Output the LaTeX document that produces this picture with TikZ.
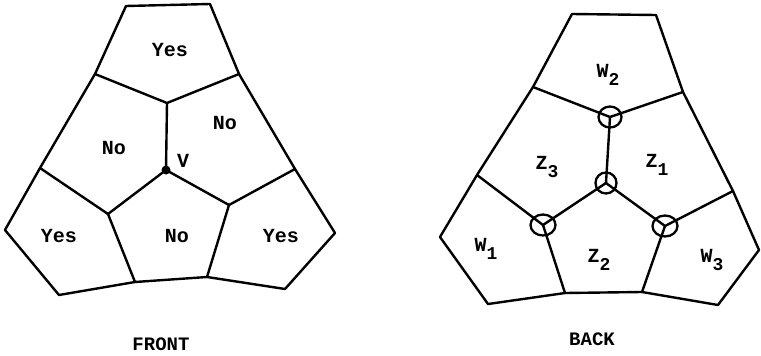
\documentclass[tikz,border=0pt]{standalone}
\usepackage{fontspec}
\setmonofont{Liberation Mono}
\usetikzlibrary{shapes.geometric}
\begin{document}
\begin{tikzpicture}[x=1pt,y=-1pt,
  edge/.style={line width=2.4pt,line join=round,line cap=round},
  lbl/.style={font=\fontsize{20}{20}\selectfont\ttfamily\bfseries,inner sep=0pt},
  capt/.style={font=\fontsize{19}{19}\selectfont\ttfamily\bfseries,inner sep=0pt},
  ring/.style={draw,line width=2.3pt,ellipse,minimum width=23pt,minimum height=21pt,inner sep=0pt}]
\newcommand\subd[1]{\raisebox{-8pt}{\fontsize{18}{18}\selectfont #1}}
\useasboundingbox (0,0) rectangle (761,356);
% FRONT
\coordinate (F1) at (126,6);
\coordinate (F2) at (210,4);
\coordinate (F3) at (239,74);
\coordinate (F4) at (295,169);
\coordinate (F5) at (335,233);
\coordinate (F6) at (285,289);
\coordinate (F7) at (207,277);
\coordinate (F8) at (135,282);
\coordinate (F9) at (59,295);
\coordinate (F10) at (5,230);
\coordinate (F11) at (40,168);
\coordinate (F12) at (95,74);
\coordinate (Fa) at (167,103);
\coordinate (FV) at (166,170);
\coordinate (Fb) at (108,214);
\coordinate (Fc) at (229,205);
\draw[edge] (F1) -- (F2) -- (F3) -- (F4) -- (F5) -- (F6) -- (F7) -- (F8) -- (F9) -- (F10) -- (F11) -- (F12) -- cycle;
\draw[edge] (F12) -- (Fa) -- (F3);
\draw[edge] (Fa) -- (FV);
\draw[edge] (F11) -- (Fb) -- (FV) -- (Fc) -- (F4);
\draw[edge] (Fb) -- (F8);
\draw[edge] (Fc) -- (F7);
\fill (FV) circle (4.5pt);
\node[lbl] (t1) at (170,50) {Yes};
\node[lbl] (t2) at (114,148) {No};
\node[lbl] (t3) at (225,123) {No};
\node[lbl] (t4) at (183,161) {V};
\node[lbl] (t5) at (59,236) {Yes};
\node[lbl] (t6) at (177,236) {No};
\node[lbl] (t7) at (281,236) {Yes};
\node[capt] (front) at (161,344) {FRONT};
% BACK
\coordinate (B1) at (572,14);
\coordinate (B2) at (656,15);
\coordinate (B3) at (683,92);
\coordinate (B4) at (733,191);
\coordinate (B5) at (759,250);
\coordinate (B6) at (718,305);
\coordinate (B7) at (642,292);
\coordinate (B8) at (565,293);
\coordinate (B9) at (488,304);
\coordinate (B10) at (440,237);
\coordinate (B11) at (477,175);
\coordinate (B12) at (533,87);
\coordinate (Ba) at (610,117);
\coordinate (Bc) at (606,183);
\coordinate (Bb) at (543,225);
\coordinate (Bd) at (665,226);
\draw[edge] (B1) -- (B2) -- (B3) -- (B4) -- (B5) -- (B6) -- (B7) -- (B8) -- (B9) -- (B10) -- (B11) -- (B12) -- cycle;
\draw[edge] (B12) -- (Ba) -- (B3);
\draw[edge] (Ba) -- (Bc);
\draw[edge] (B11) -- (Bb) -- (Bc) -- (Bd) -- (B4);
\draw[edge] (Bb) -- (B8);
\draw[edge] (Bd) -- (B7);
\node[ring] (ra) at (Ba) {};
\node[ring,minimum width=21pt] (rc) at (Bc) {};
\node[ring,minimum width=25pt] (rb) at (Bb) {};
\node[ring,minimum width=25pt] (rd) at (Bd) {};
\node[lbl] (w2) at (608,75) {W\subd{2}};
\node[lbl] (z3) at (547,167) {Z\subd{3}};
\node[lbl] (z1) at (657,165) {Z\subd{1}};
\node[lbl] (w1) at (486,249) {W\subd{1}};
\node[lbl] (z2) at (599,260) {Z\subd{2}};
\node[lbl] (w3) at (712,260) {W\subd{3}};
\node[capt] (back) at (592,339) {BACK};
\end{tikzpicture}
\end{document}
